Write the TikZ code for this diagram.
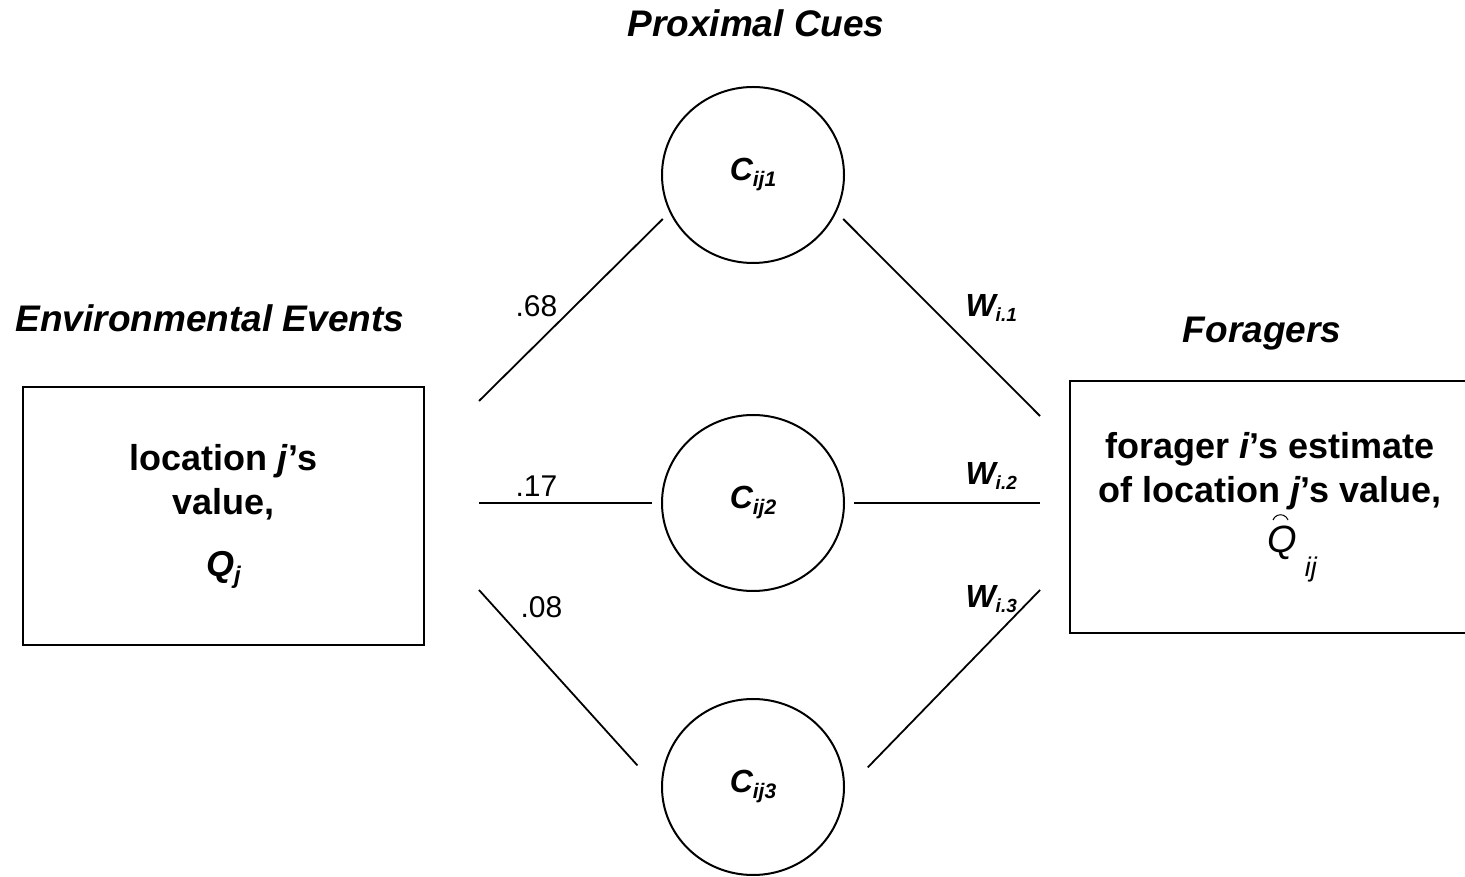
\documentclass[tikz,border=0pt]{standalone}
\usepackage{fontspec}
\setmainfont{Liberation Sans}
\usetikzlibrary{shapes.geometric}

\newcommand{\cuename}[1]{{\fontsize{32}{32}\selectfont\bfseries\itshape C\raisebox{-6pt}{\fontsize{21}{21}\selectfont ij#1}}}
\newcommand{\wname}[1]{{\fontsize{32}{32}\selectfont\bfseries\itshape W\raisebox{-5pt}{\fontsize{19}{19}\selectfont i.#1}}}

\begin{document}
\begin{tikzpicture}[x=1pt, y=1pt,
    box/.style={draw, line width=2pt, align=center, inner sep=0pt, font=\fontsize{36}{44}\selectfont\bfseries},
    cue/.style={draw, ellipse, line width=2pt, minimum width=182pt, minimum height=176pt, inner sep=0pt, outer sep=10pt},
    link/.style={line width=1.8pt},
    heading/.style={anchor=base, font=\fontsize{37}{37}\selectfont\bfseries\itshape},
    coef/.style={anchor=base west, font=\fontsize{30}{30}\selectfont}]
    \useasboundingbox ( 0, 0 ) rectangle ( 1465, 876 );

    % заголовки
    \node [heading] (proxtitle) at ( 756, 839 ) {Proximal Cues};
    \node [heading] (envtitle) at ( 210, 544 ) {Environmental Events};
    \node [heading] (fortitle) at ( 1262, 533 ) {Foragers};

    % рамки
    \node [box, minimum width=401pt, minimum height=258pt] (env) at ( 223.5, 360 )
        {location \textit{j}’s\\value,\\[18pt]\textit{Q}\raisebox{-7pt}{\fontsize{24}{24}\selectfont\itshape j}};
    \node [box, minimum width=400pt, minimum height=252pt] (forager) at ( 1270, 369 )
        {forager \textit{i}’s estimate\\of location \textit{j}’s value,\\[6pt]\hspace*{44pt}{\mdseries\itshape\fontsize{38}{38}\selectfont Q\hspace{8pt}\raisebox{-24pt}{\fontsize{27}{27}\selectfont ij}}};
    \draw [line width=1pt] ( 1273, 356 ) arc [start angle=160, end angle=20, radius=8pt];

    % кружки
    \node [cue] (c1) at ( 753, 701 ) {\cuename{1}};
    \node [cue] (c2) at ( 753, 373 ) {\cuename{2}};
    \node [cue] (c3) at ( 753, 89 ) {\cuename{3}};

    % концы линий у рамок
    \coordinate (e1) at ( 479, 475 );
    \coordinate (e2) at ( 479, 373 );
    \coordinate (e3) at ( 479, 286 );
    \coordinate (f1) at ( 1040, 460 );
    \coordinate (f2) at ( 1040, 373 );
    \coordinate (f3) at ( 1040, 286 );

    % линии
    \draw [link] (e1) -- (c1.206);
    \draw [link] (e2) -- (c2.west);
    \draw [link, shorten >=22pt] (e3) -- (c3.177);
    \draw [link] (c1.334) -- (f1);
    \draw [link] (c2.east) -- (f2);
    \draw [link, shorten <=20pt] (c3.3) -- (f3);

    % коэффициенты
    \node [coef] (r1) at ( 512, 559 ) {.68};
    \node [coef] (r2) at ( 512, 379 ) {.17};
    \node [coef] (r3) at ( 517, 258 ) {.08};
    \node [coef] (w1) at ( 962, 559 ) {\wname{1}};
    \node [coef] (w2) at ( 962, 391 ) {\wname{2}};
    \node [coef] (w3) at ( 962, 268 ) {\wname{3}};
\end{tikzpicture}
\end{document}
